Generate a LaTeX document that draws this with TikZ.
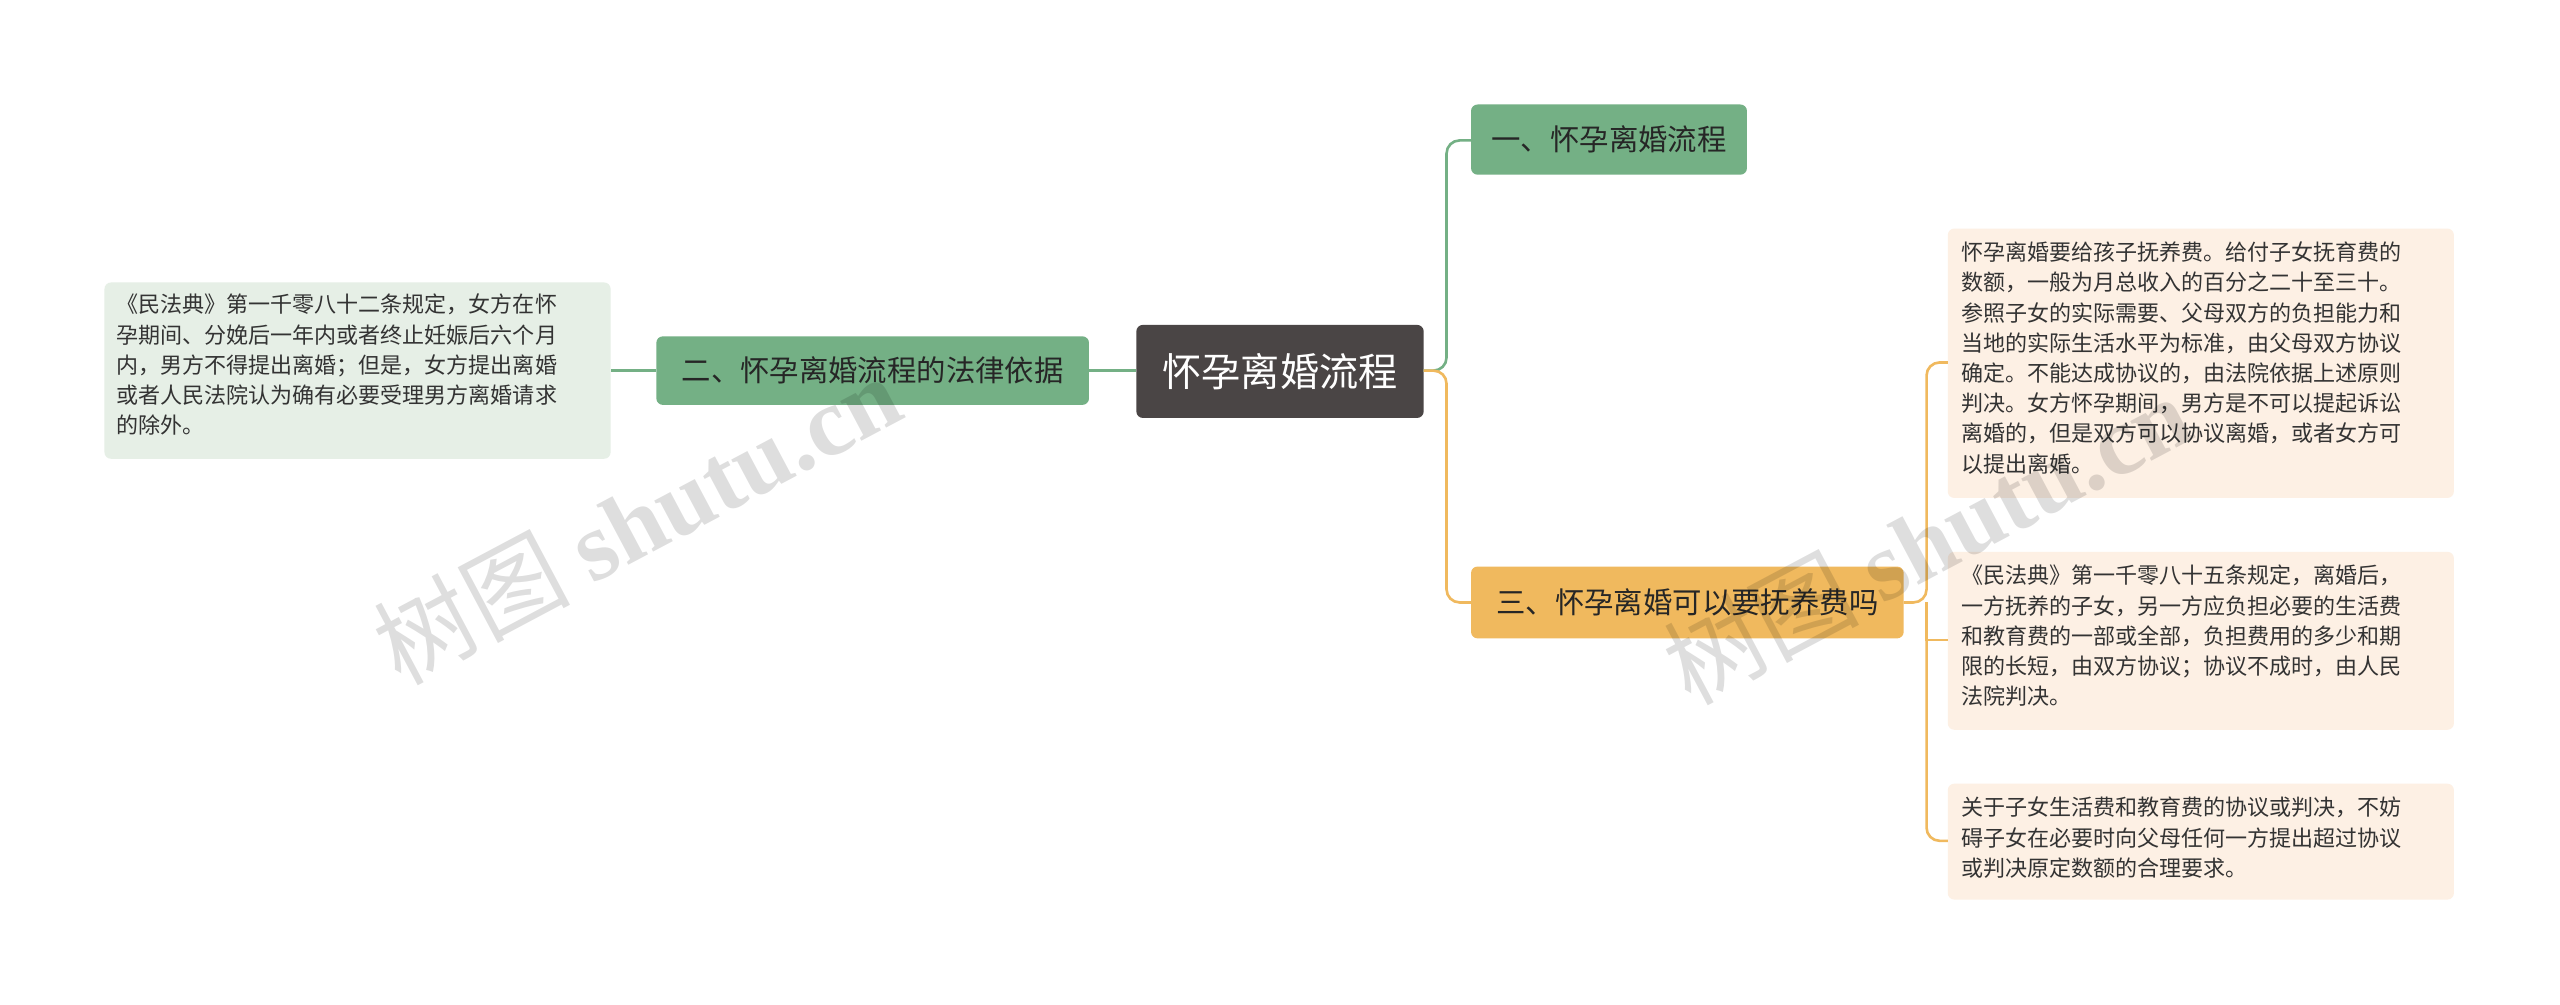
\documentclass[tikz,border=0pt]{standalone}
\usepackage{fontspec}
\setmainfont{Noto Sans CJK SC}
\newfontfamily\wmserif{Liberation Serif}
\begin{document}
\begin{tikzpicture}[x=1pt,y=-1pt,
  lf/.style={font=\fontsize{13.5}{18.5}\selectfont,align=left,text=black!80,anchor=north west,inner sep=0pt}]
\definecolor{gr}{RGB}{116,176,133}
\definecolor{orr}{RGB}{240,185,94}
\definecolor{cen}{RGB}{74,69,69}
\definecolor{lg}{RGB}{230,239,230}
\definecolor{lo}{RGB}{253,240,228}
\useasboundingbox (0,0) rectangle (1568,615);
\fill[white] (0,0) rectangle (1568,615);
% boxes
\fill[cen,rounded corners=4pt] (696,199) rectangle (872,256);
\node[text=white,font=\fontsize{24}{28}\selectfont] (c) at (784,227.5) {怀孕离婚流程};
\fill[gr,rounded corners=4pt] (901,64) rectangle (1070,107);
\node[font=\fontsize{18}{22}\selectfont,text=black!85] (b1) at (985.5,85.5) {一、怀孕离婚流程};
\fill[gr,rounded corners=4pt] (402,206) rectangle (667,248);
\node[font=\fontsize{18}{22}\selectfont,text=black!85] (b2) at (534.5,227) {二、怀孕离婚流程的法律依据};
\fill[orr,rounded corners=4pt] (901,347) rectangle (1166,391);
\node[font=\fontsize{18}{22}\selectfont,text=black!85] (b3) at (1033.5,369) {三、怀孕离婚可以要抚养费吗};
\fill[lg,rounded corners=4pt] (64,173) rectangle (374,281);
\node[lf] (l0) at (71,180) {《民法典》第一千零八十二条规定，女方在怀\\孕期间、分娩后一年内或者终止妊娠后六个月\\内，男方不得提出离婚；但是，女方提出离婚\\或者人民法院认为确有必要受理男方离婚请求\\的除外。};
\fill[lo,rounded corners=4pt] (1193,140) rectangle (1503,305);
\node[lf] (r1) at (1201,148) {怀孕离婚要给孩子抚养费。给付子女抚育费的\\数额，一般为月总收入的百分之二十至三十。\\参照子女的实际需要、父母双方的负担能力和\\当地的实际生活水平为标准，由父母双方协议\\确定。不能达成协议的，由法院依据上述原则\\判决。女方怀孕期间，男方是不可以提起诉讼\\离婚的，但是双方可以协议离婚，或者女方可\\以提出离婚。};
\fill[lo,rounded corners=4pt] (1193,338) rectangle (1503,447);
\node[lf] (r2) at (1201,346) {《民法典》第一千零八十五条规定，离婚后，\\一方抚养的子女，另一方应负担必要的生活费\\和教育费的一部或全部，负担费用的多少和期\\限的长短，由双方协议；协议不成时，由人民\\法院判决。};
\fill[lo,rounded corners=4pt] (1193,480) rectangle (1503,551);
\node[lf] (r3) at (1201,488) {关于子女生活费和教育费的协议或判决，不妨\\碍子女在必要时向父母任何一方提出超过协议\\或判决原定数额的合理要求。};
% connectors
\coordinate (cr) at (872,227);
\draw[line width=1.6pt,gr,rounded corners=8pt] (cr) -- (886,227) -- (886,86) -- (901,86);
\draw[line width=1.6pt,orr,rounded corners=8pt] (cr) -- (886,227) -- (886,369) -- (901,369);
\draw[line width=1.6pt,gr] (696,227) -- (667,227);
\draw[line width=1.6pt,gr] (402,227) -- (374,227);
\draw[line width=1.6pt,orr,rounded corners=8pt] (1166,369) -- (1180,369) -- (1180,222) -- (1193,222);
\draw[line width=1.6pt,orr] (1180,369) -- (1180,392) -- (1193,392);
\draw[line width=1.6pt,orr,rounded corners=8pt] (1180,369) -- (1180,515) -- (1193,515);
% watermarks
\node[rotate=28,text=black,opacity=0.13,font=\fontsize{60}{66}\selectfont] (w1) at (390,318) {树图 {\wmserif\bfseries shutu.cn}};
\node[rotate=28,text=black,opacity=0.13,font=\fontsize{60}{66}\selectfont] (w2) at (1180,330) {树图 {\wmserif\bfseries shutu.cn}};
\end{tikzpicture}
\end{document}
